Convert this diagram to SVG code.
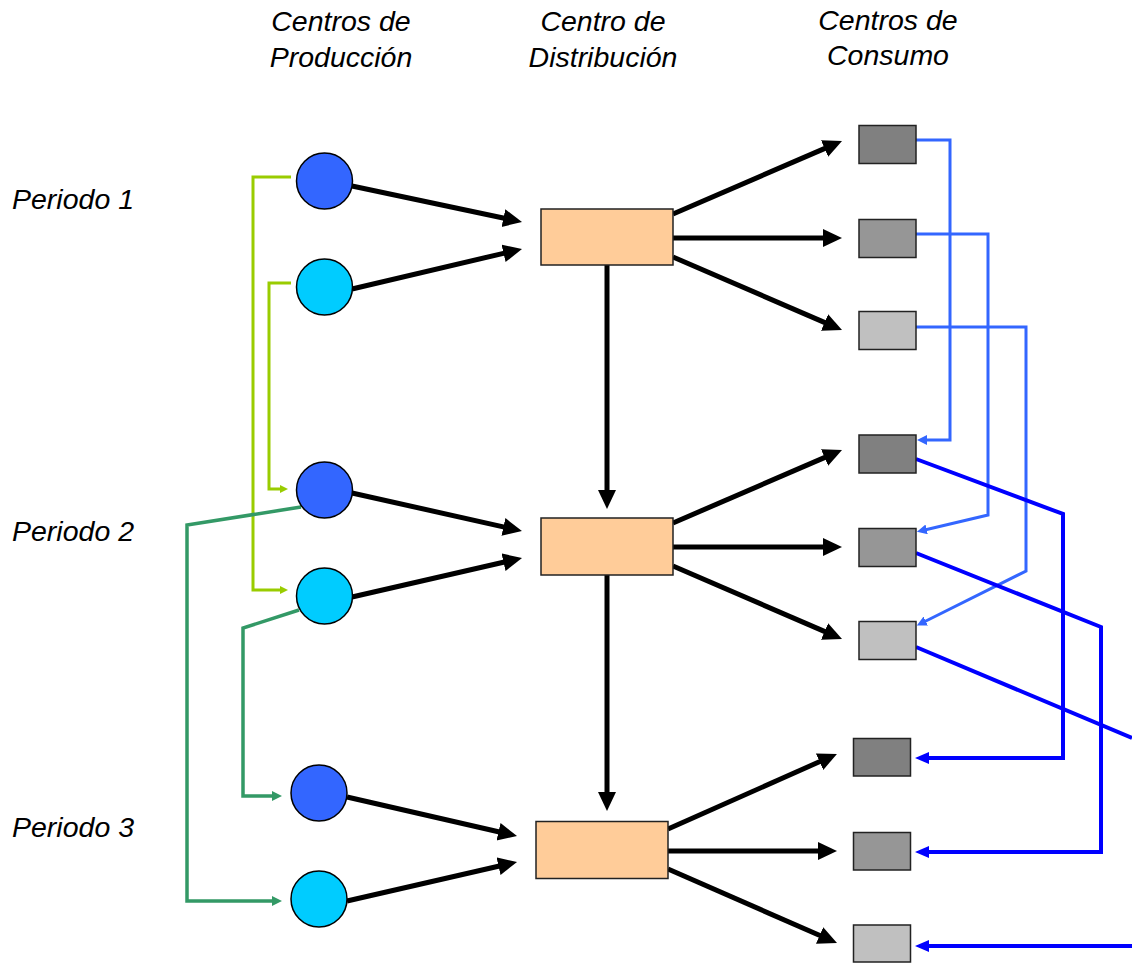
<svg xmlns="http://www.w3.org/2000/svg" width="1132" height="964" viewBox="0 0 1132 964">
<style>
.lbl{font-family:"Liberation Sans",Arial,sans-serif;font-style:italic;font-size:28.5px;fill:#000}
.prodA{fill:#3366FF;stroke:#000;stroke-width:1.5}
.prodB{fill:#00CCFF;stroke:#000;stroke-width:1.5}
.dist{fill:#FFCC99;stroke:#222;stroke-width:1.5}
.c1{fill:#808080;stroke:#222;stroke-width:1.5}
.c2{fill:#969696;stroke:#222;stroke-width:1.5}
.c3{fill:#C0C0C0;stroke:#222;stroke-width:1.5}
.blk{stroke:#000;stroke-width:5;fill:none;marker-end:url(#ah)}
.lb{stroke:#3366FF;stroke-width:3;fill:none;marker-end:url(#ahLB)}
.db{stroke:#0000FF;stroke-width:4;fill:none}
.dba{marker-end:url(#ahDB)}
.lg{stroke:#99CC00;stroke-width:3;fill:none;marker-end:url(#ahLG)}
.dg{stroke:#339966;stroke-width:3.5;fill:none;marker-end:url(#ahDG)}
</style>
<defs>
<marker id="ah" markerUnits="userSpaceOnUse" markerWidth="22" markerHeight="20" refX="1" refY="9" orient="auto"><path d="M0,0 L19,9 L0,18 z" fill="#000"/></marker>
<marker id="ahLB" markerUnits="userSpaceOnUse" markerWidth="12" markerHeight="12" refX="1" refY="5" orient="auto"><path d="M0,0 L10,5 L0,10 z" fill="#3366FF"/></marker>
<marker id="ahDB" markerUnits="userSpaceOnUse" markerWidth="16" markerHeight="14" refX="1" refY="6" orient="auto"><path d="M0,0 L14,6 L0,12 z" fill="#0000FF"/></marker>
<marker id="ahLG" markerUnits="userSpaceOnUse" markerWidth="10" markerHeight="10" refX="1" refY="4" orient="auto"><path d="M0,0 L8,4 L0,8 z" fill="#99CC00"/></marker>
<marker id="ahDG" markerUnits="userSpaceOnUse" markerWidth="12" markerHeight="12" refX="1" refY="5" orient="auto"><path d="M0,0 L10,5 L0,10 z" fill="#339966"/></marker>
</defs>
<rect width="1132" height="964" fill="#fff"/>

<g id="headers">
<text class="lbl" x="341" y="31" text-anchor="middle">Centros de</text>
<text class="lbl" x="341" y="67" text-anchor="middle">Producción</text>
<text class="lbl" x="603" y="31" text-anchor="middle">Centro de</text>
<text class="lbl" x="603" y="67" text-anchor="middle">Distribución</text>
<text class="lbl" x="888" y="30" text-anchor="middle">Centros de</text>
<text class="lbl" x="888" y="65" text-anchor="middle">Consumo</text>
</g>
<g id="periods">
<text class="lbl" x="12" y="209">Periodo 1</text>
<text class="lbl" x="12" y="541">Periodo 2</text>
<text class="lbl" x="12" y="837">Periodo 3</text>
</g>

<g id="connectors">
<!-- period 1 -->
<line class="blk" x1="352" y1="186" x2="504.4" y2="218.3"/>
<line class="blk" x1="352" y1="289" x2="504.5" y2="253.1"/>
<line class="blk" x1="673" y1="214" x2="825.5" y2="148.1"/>
<line class="blk" x1="673" y1="238" x2="824" y2="238"/>
<line class="blk" x1="673" y1="257" x2="825.5" y2="322.9"/>
<line class="blk" x1="607" y1="265" x2="607" y2="491"/>
<!-- period 2 -->
<line class="blk" x1="352" y1="493" x2="504.4" y2="527.1"/>
<line class="blk" x1="352" y1="597" x2="504.5" y2="562"/>
<line class="blk" x1="673" y1="523" x2="825.5" y2="457.1"/>
<line class="blk" x1="673" y1="547" x2="824" y2="547"/>
<line class="blk" x1="673" y1="566" x2="825.5" y2="631.9"/>
<line class="blk" x1="607" y1="575" x2="607" y2="793"/>
<!-- period 3 -->
<line class="blk" x1="347" y1="797" x2="499.5" y2="832"/>
<line class="blk" x1="347" y1="901" x2="499.5" y2="866"/>
<line class="blk" x1="668" y1="829" x2="820.5" y2="761.3"/>
<line class="blk" x1="668" y1="851" x2="819" y2="851"/>
<line class="blk" x1="668" y1="869" x2="820.5" y2="935.8"/>
<!-- light blue carry-over -->
<path class="lb" d="M916,140 H950 V440 H926"/>
<path class="lb" d="M916,234 H988 V515 L925.7,529.7"/>
<path class="lb" d="M916,327 H1026 V571 L924.9,621.5"/>
<!-- dark blue carry-over -->
<path class="db dba" d="M916,459 L1063,514 V758 H928"/>
<path class="db dba" d="M916,553 L1101,627 V852 H928"/>
<path class="db" d="M916,647 L1132,738"/>
<path class="db dba" d="M1132,946 H928"/>
<!-- light green -->
<path class="lg" d="M291,177 H253 V590 H281"/>
<path class="lg" d="M291,283 H269 V489 H281"/>
<!-- dark green -->
<path class="dg" d="M301,507 L187,525 V901 H273"/>
<path class="dg" d="M299,610 L243,628 V796 H273"/>
</g>

<g id="p1-prod-a"><circle class="prodA" cx="324.5" cy="181" r="28"/></g>
<g id="p1-prod-b"><circle class="prodB" cx="324.5" cy="287" r="28"/></g>
<g id="p2-prod-a"><circle class="prodA" cx="324.5" cy="490" r="28"/></g>
<g id="p2-prod-b"><circle class="prodB" cx="324.5" cy="596" r="28"/></g>
<g id="p3-prod-a"><circle class="prodA" cx="319" cy="793" r="28"/></g>
<g id="p3-prod-b"><circle class="prodB" cx="319" cy="899" r="28"/></g>

<g id="p1-dist"><rect class="dist" x="541" y="209" width="132" height="56"/></g>
<g id="p2-dist"><rect class="dist" x="541" y="518" width="132" height="57"/></g>
<g id="p3-dist"><rect class="dist" x="536" y="821.5" width="132" height="57"/></g>

<g id="p1-cons-1"><rect class="c1" x="859" y="125.5" width="57" height="38"/></g>
<g id="p1-cons-2"><rect class="c2" x="859" y="219.5" width="57" height="38"/></g>
<g id="p1-cons-3"><rect class="c3" x="859" y="311.5" width="57" height="38"/></g>
<g id="p2-cons-1"><rect class="c1" x="859" y="435" width="57" height="38"/></g>
<g id="p2-cons-2"><rect class="c2" x="859" y="528.5" width="57" height="38"/></g>
<g id="p2-cons-3"><rect class="c3" x="859" y="621.5" width="57" height="38"/></g>
<g id="p3-cons-1"><rect class="c1" x="853.5" y="738.5" width="57" height="37.5"/></g>
<g id="p3-cons-2"><rect class="c2" x="853.5" y="832.5" width="57" height="37.5"/></g>
<g id="p3-cons-3"><rect class="c3" x="853.5" y="925" width="57" height="37"/></g>
</svg>
